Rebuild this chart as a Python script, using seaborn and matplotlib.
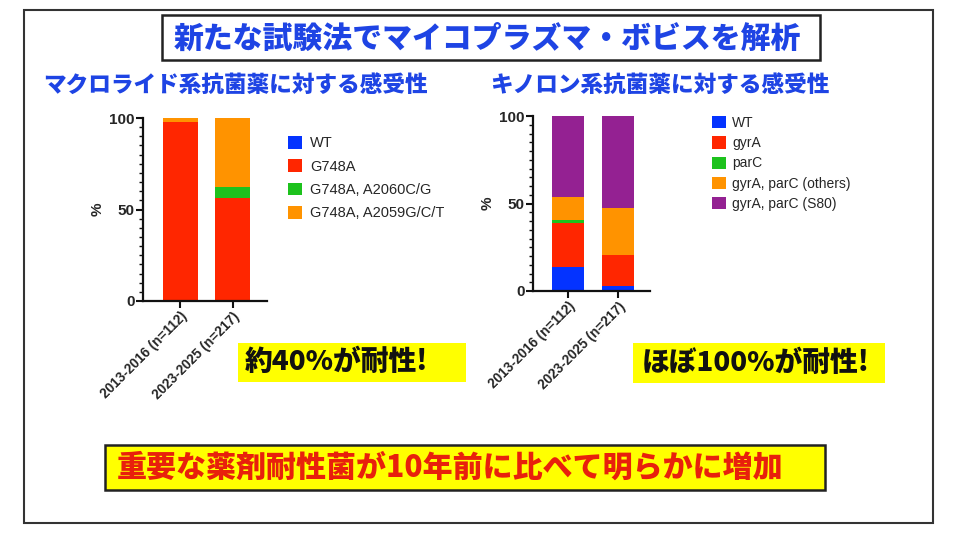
import numpy as np
import matplotlib
matplotlib.use('Agg')
import matplotlib.pyplot as plt
from matplotlib.patches import Rectangle, Patch
from matplotlib.ticker import MultipleLocator
import seaborn as sns

# data
groups = ['2013-2016 (n=112)', '2023-2025 (n=217)']

macro_labels = ['WT', 'G748A', 'G748A, A2060C/G', 'G748A, A2059G/C/T']
macro_wt = [0, 0.5]
macro_g748a = [98, 56]
macro_a2060 = [0, 6]
macro_a2059 = [2, 37.5]

quin_labels = ['WT', 'gyrA', 'parC', 'gyrA, parC (others)', 'gyrA, parC (S80)']
quin_wt = [14, 3]
quin_gyra = [25, 17.5]
quin_parc = [1.5, 0]
quin_others = [13.5, 27]
quin_s80 = [46, 52.5]

BLUE = '#0433FF'
RED = '#FF2600'
GREEN = '#1DC21D'
ORANGE = '#FF9300'
PURPLE = '#942192'
TITLE_BLUE = '#1E44E4'

JP = ['Noto Sans CJK JP', 'DejaVu Sans']

sns.set_theme(style='ticks')
plt.rcParams['font.family'] = ['Liberation Sans', 'Noto Sans CJK JP', 'DejaVu Sans']

W, H = 958, 536
fig = plt.figure(figsize=(W / 100, H / 100), dpi=100)


def fx(x):
    return x / W


def fy(y):
    return 1 - y / H


def box(x0, y0, x1, y1, face='none', edge='#222222', lw=1.5):
    fig.patches.append(Rectangle((fx(x0), fy(y1)), fx(x1) - fx(x0), fy(y0) - fy(y1),
                                 transform=fig.transFigure, facecolor=face,
                                 edgecolor=edge, linewidth=lw, zorder=0))


def stacked(ax, series, colors, width):
    # draw cumulative totals from the top layer down so each layer covers the one above
    cums = np.cumsum(np.array(series, dtype=float), axis=0)
    for cum, c in reversed(list(zip(cums, colors))):
        sns.barplot(x=groups, y=cum, color=c, width=width, saturation=1,
                    linewidth=0, ax=ax)


def style_axis(ax, xlim):
    ax.set_ylim(0, 100)
    ax.set_xlim(*xlim)
    ax.set_yticks([0, 50, 100])
    ax.yaxis.set_minor_locator(MultipleLocator(5))
    ax.set_xticks([0, 1])
    ax.set_xticklabels(groups, rotation=45, ha='right', rotation_mode='anchor',
                       fontsize=9.8, fontweight='bold')
    for t in ax.get_yticklabels():
        t.set_fontweight('bold')
        t.set_fontsize(11)
    ax.tick_params(axis='both', which='major', length=5, width=1.5, color='#111111', pad=1)
    ax.tick_params(axis='y', which='minor', length=3, width=1.0, color='#111111')
    ax.set_ylabel('%', fontsize=11, fontweight='bold', labelpad=3)
    ax.set_xlabel('')
    sns.despine(ax=ax)
    for s in ['left', 'bottom']:
        ax.spines[s].set_linewidth(1.6)
        ax.spines[s].set_color('#111111')
    ax.set_facecolor('none')


# outer frame and headline
box(24, 10, 933, 523, lw=1.5, edge='#333333')
box(162, 15, 820, 60, face='white', lw=1.8)
fig.text(fx(487), fy(38), '新たな試験法でマイコプラズマ・ボビスを解析', family=JP,
         fontsize=21.5, fontweight='heavy', color=TITLE_BLUE, ha='center', va='center')

fig.text(fx(43), fy(85), 'マクロライド系抗菌薬に対する感受性', family=JP,
         fontsize=16.3, fontweight='heavy', color=TITLE_BLUE, ha='left', va='center')
fig.text(fx(490), fy(85), 'キノロン系抗菌薬に対する感受性', family=JP,
         fontsize=16.3, fontweight='heavy', color=TITLE_BLUE, ha='left', va='center')

# macrolide panel
ax1 = fig.add_axes([fx(143), fy(301), fx(267) - fx(143), fy(118) - fy(301)])
macro_colors = [BLUE, RED, GREEN, ORANGE]
stacked(ax1, [macro_wt, macro_g748a, macro_a2060, macro_a2059], macro_colors, 0.67)
style_axis(ax1, (-0.71, 1.65))
h1 = [Patch(facecolor=c, edgecolor='none') for c in macro_colors]
fig.legend(h1, macro_labels, loc='upper left', bbox_to_anchor=(fx(288), fy(136)),
           bbox_transform=fig.transFigure, frameon=False, fontsize=10.5,
           handlelength=0.95, handleheight=0.95, handletextpad=0.55,
           labelspacing=0.62, borderpad=0, borderaxespad=0)

# quinolone panel
ax2 = fig.add_axes([fx(533), fy(291), fx(650) - fx(533), fy(116) - fy(291)])
quin_colors = [BLUE, RED, GREEN, ORANGE, PURPLE]
stacked(ax2, [quin_wt, quin_gyra, quin_parc, quin_others, quin_s80], quin_colors, 0.64)
style_axis(ax2, (-0.7, 1.64))
h2 = [Patch(facecolor=c, edgecolor='none') for c in quin_colors]
fig.legend(h2, quin_labels, loc='upper left', bbox_to_anchor=(fx(712), fy(116)),
           bbox_transform=fig.transFigure, frameon=False, fontsize=10,
           handlelength=1.0, handleheight=1.0, handletextpad=0.45,
           labelspacing=0.45, borderpad=0, borderaxespad=0)

# yellow call-outs
box(238, 343, 466, 382, face='#FFFF00', edge='none', lw=0)
fig.text(fx(245), fy(362), '約40%が耐性!', family=JP, fontsize=20,
         fontweight='heavy', color='#111111', ha='left', va='center')
box(633, 343, 885, 383, face='#FFFF00', edge='none', lw=0)
fig.text(fx(642), fy(363), 'ほぼ100%が耐性!', family=JP, fontsize=20,
         fontweight='heavy', color='#111111', ha='left', va='center')

box(105, 445, 825, 490, face='#FFFF00', edge='#222222', lw=1.8)
fig.text(fx(450), fy(467), '重要な薬剤耐性菌が10年前に比べて明らかに増加', family=JP,
         fontsize=21.6, fontweight='heavy', color='#E8200C', ha='center', va='center')

fig.savefig('out.png', dpi=100, facecolor='white')
